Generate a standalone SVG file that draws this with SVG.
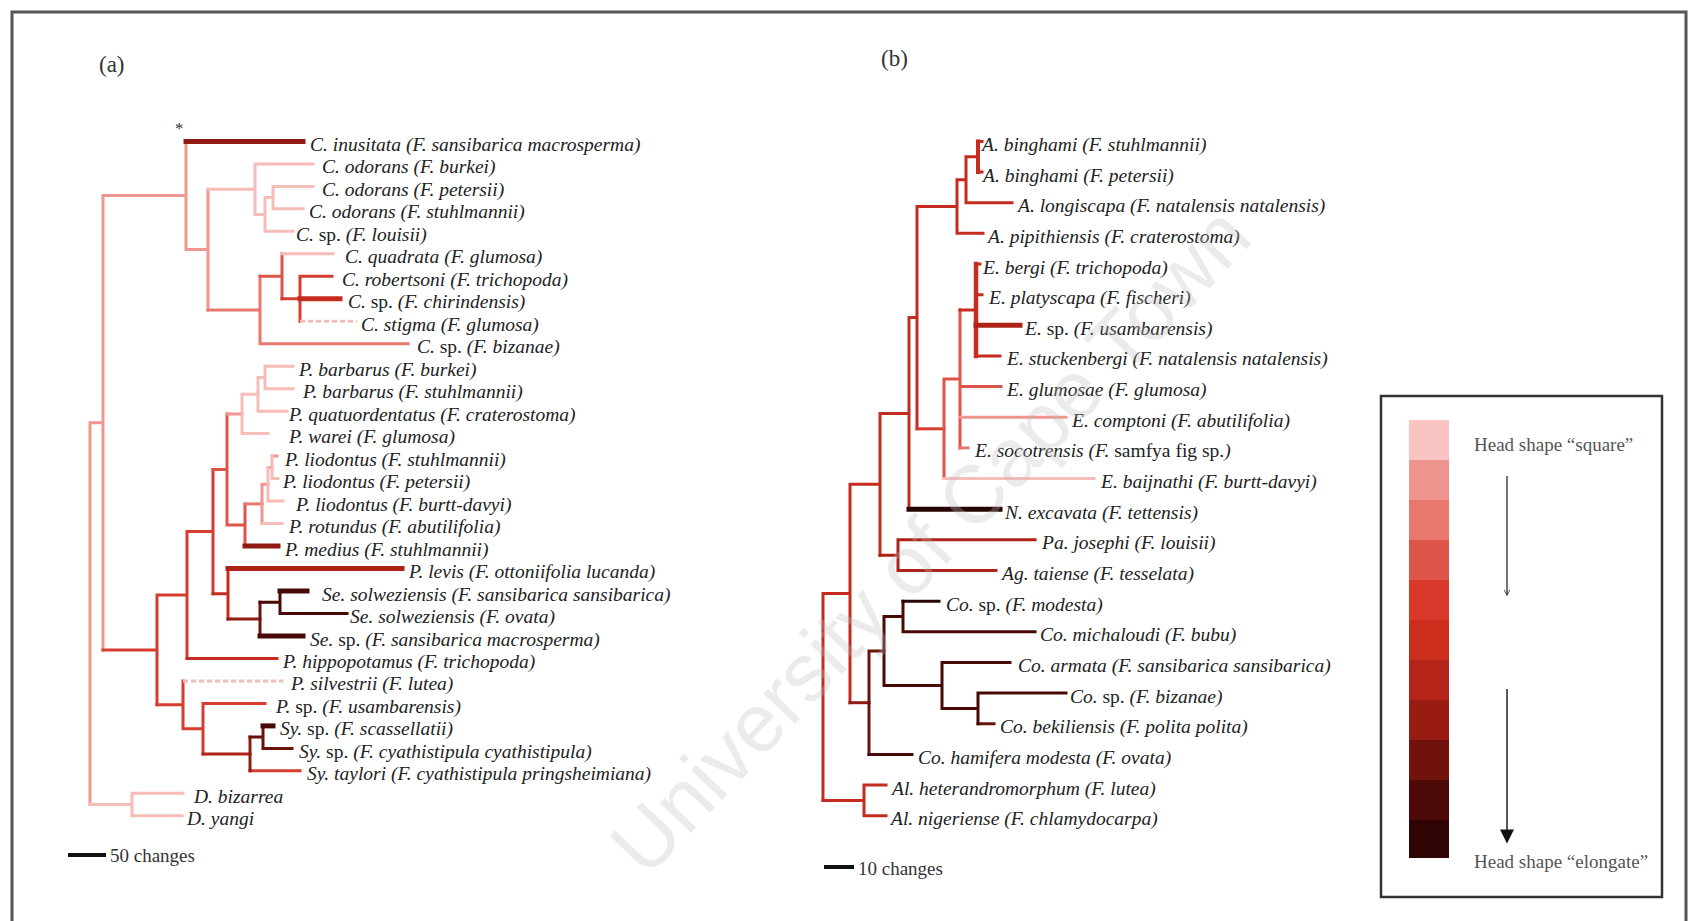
<svg xmlns="http://www.w3.org/2000/svg" width="1689" height="921" viewBox="0 0 1689 921">
<style>
.t{font-family:"Liberation Serif","Times New Roman",serif;font-style:italic;font-size:19.5px;fill:#222}
.r{font-style:normal}
.u{font-family:"Liberation Serif","Times New Roman",serif;font-size:19px;fill:#333}
.b{fill:none;stroke-width:3;stroke-linecap:square}
.k{stroke-width:5}
.d{stroke-dasharray:5 3;stroke-linecap:butt}
.c1{stroke:#f6bcb8}.c2{stroke:#ef968f}.c3{stroke:#e8776e}.c4{stroke:#dd5448}.c5{stroke:#d63d2e}
.c6{stroke:#c52b1e}.c7{stroke:#ad2318}.c8{stroke:#8f1b12}.c9{stroke:#6a120c}.c10{stroke:#470a07}.c11{stroke:#250403}
</style>
<defs>
<marker id="ah" viewBox="0 0 10 10" refX="9" refY="5" markerWidth="16" markerHeight="14" markerUnits="userSpaceOnUse" orient="auto">
<path d="M0,0 L10,5 L0,10 Z" fill="#111"/>
</marker>
<marker id="ah2" viewBox="0 0 10 10" refX="9" refY="5" markerWidth="7" markerHeight="6" markerUnits="userSpaceOnUse" orient="auto">
<path d="M0,0 L10,5 L0,10" fill="none" stroke="#444" stroke-width="1.5"/>
</marker>
</defs>
<rect width="1689" height="921" fill="#fff"/>
<rect x="12" y="12" width="1674" height="930" fill="none" stroke="#555" stroke-width="3"/>

<text x="99" y="72" class="u" style="font-size:23px">(a)</text>
<text x="881" y="66" class="u" style="font-size:23px">(b)</text>
<text x="175" y="134" class="u" style="font-size:17px">*</text>

<g id="connectors-a">
<path class="b c2" d="M90 422.7V804.5M90 422.7H103M103 195.5V649.9M103 195.5H186M186 141.4V249.6M186 249.6H208M208 189.2V310"/>
<path class="b c1" d="M90 804.5H132M132 793.3V815.8M132 793.3H183M132 815.8H182"/>
<path class="b c8 k" d="M186 141.4H303"/>
<path class="b c1" d="M208 189.2H255M255 163.9V214.5M255 163.9H313M255 214.5H265M265 197.6V231.3M265 231.3H293M265 197.6H273M273 186.4V208.8M273 186.4H313M273 208.8H303"/>
<path class="b c3" d="M208 310H260M260 276.3V343.7M260 343.7H408"/>
<path class="b c4" d="M260 276.3H282M282 253.8V298.8"/>
<path class="b c1" d="M282 253.8H333"/>
<path class="b c5" d="M282 298.8H300M300 276.3V321.2M300 276.3H332"/>
<path class="b c6 k" d="M300 298.8H340"/>
<path class="b c1 d" d="M300 321.2H357"/>
<path class="b c5" d="M103 649.9H157M157 595V704.8M157 595H187M187 531.6V658.4M187 531.6H213M213 469.5V593.8"/>
<path class="b c6" d="M187 658.4H277"/>
<path class="b c4" d="M213 469.5H227M227 414V525M227 525H245M245 503.9V546"/>
<path class="b c2" d="M227 414H242"/>
<path class="b c1" d="M242 394.3V433.6M242 433.6H268M242 394.3H258M258 377.5V411.2M258 411.2H287M258 377.5H265M265 366.2V388.7M265 366.2H293M265 388.7H293"/>
<path class="b c8 k" d="M245 546H278"/>
<path class="b c3" d="M245 503.9H262"/>
<path class="b c2" d="M262 484.2V523.6M262 484.2H268M268 467.4H272M272 456.1H277"/>
<path class="b c1" d="M262 523.6H282M268 467.4V501.1M268 501.1H283M272 456.1V478.6M272 478.6H278"/>
<path class="b c6" d="M213 593.8H228M228 568.5V619.1"/>
<path class="b c7 k" d="M228 568.5H402"/>
<path class="b c8" d="M228 619.1H260"/>
<path class="b c9" d="M260 602.2V636"/>
<path class="b c10 k" d="M260 636H303M280 591H307"/>
<path class="b c10" d="M260 602.2H280M280 591V613.5M280 613.5H347"/>
<path class="b c5" d="M157 704.8H183M183 680.9V728.7M183 728.7H203M203 703.4V754M203 703.4H265M250 770.8H300"/>
<path class="b c1 d" d="M183 680.9H283"/>
<path class="b c7" d="M203 754H250"/>
<path class="b c8" d="M250 737.1V770.8"/>
<path class="b c9" d="M250 737.1H263M263 725.9V748.4M263 748.4H292"/>
<path class="b c10 k" d="M263 725.9H273"/>
</g>

<g id="connectors-b">
<path class="b c6" d="M823 593.5V800.4M823 593.5H850M850 484.3V702.7M850 484.3H880M880 413.4V555.2M880 413.4H909M909 317.6V509.2M909 317.6H917M917 206.5V428.8M917 206.5H957M957 179.7V233.35M957 233.35H983M957 179.7H966M966 156.7V202.7M966 202.7H1012M966 156.7H978M978 141.4H982M978 172.05H982"/>
<path class="b c6" d="M978 141.4V172.05" style="stroke-width:4"/>
<path class="b c11 k" d="M909 509.2H1000"/>
<path class="b c5" d="M917 428.8H944"/>
<path class="b c4" d="M944 379V478.55M944 379H960M960 310V447.9M960 386.6H1001"/>
<path class="b c1" d="M944 478.55H1094"/>
<path class="b c2" d="M960 417.25H1066"/>
<path class="b c3" d="M960 447.9H968"/>
<path class="b c6" d="M960 310H976M976 264H980M976 294.65H982M976 355.95H1000"/>
<path class="b c6" d="M976 264V355.95" style="stroke-width:4.5"/>
<path class="b c7 k" d="M976 325.3H1020"/>
<path class="b c7" d="M880 555.2H898M898 539.85V570.5M898 539.85H1035M898 570.5H996"/>
<path class="b c8" d="M850 702.7H869"/>
<path class="b c9" d="M869 651V754.4M869 651H884M978 723.75H994"/>
<path class="b c10" d="M869 754.4H912M884 616.5V685.4M884 616.5H903M903 601.15V631.8M903 631.8H1035M884 685.4H942M942 662.45V708.4M942 662.45H1010M942 708.4H978M978 693.1V723.75M978 693.1H1066"/>
<path class="b c11" d="M903 601.15H939"/>
<path class="b c6" d="M823 800.4H864M864 785.05V815.7M864 785.05H886M864 815.7H886"/>
</g>

<g id="a01"><text class="t" x="310" y="150.9">C. inusitata (F. sansibarica macrosperma)</text></g>
<g id="a02"><text class="t" x="322" y="173.4">C. odorans (F. burkei)</text></g>
<g id="a03"><text class="t" x="322" y="195.9">C. odorans (F. petersii)</text></g>
<g id="a04"><text class="t" x="309" y="218.3">C. odorans (F. stuhlmannii)</text></g>
<g id="a05"><text class="t" x="296" y="240.8">C. <tspan class="r">sp.</tspan> (F. louisii)</text></g>
<g id="a06"><text class="t" x="345" y="263.3">C. quadrata (F. glumosa)</text></g>
<g id="a07"><text class="t" x="342" y="285.8">C. robertsoni (F. trichopoda)</text></g>
<g id="a08"><text class="t" x="348" y="308.3">C. <tspan class="r">sp.</tspan> (F. chirindensis)</text></g>
<g id="a09"><text class="t" x="361" y="330.7">C. stigma (F. glumosa)</text></g>
<g id="a10"><text class="t" x="417" y="353.2">C. <tspan class="r">sp.</tspan> (F. bizanae)</text></g>
<g id="a11"><text class="t" x="299" y="375.7">P. barbarus (F. burkei)</text></g>
<g id="a12"><text class="t" x="303" y="398.2">P. barbarus (F. stuhlmannii)</text></g>
<g id="a13"><text class="t" x="289" y="420.7">P. quatuordentatus (F. craterostoma)</text></g>
<g id="a14"><text class="t" x="289" y="443.1">P. warei (F. glumosa)</text></g>
<g id="a15"><text class="t" x="285" y="465.6">P. liodontus (F. stuhlmannii)</text></g>
<g id="a16"><text class="t" x="283" y="488.1">P. liodontus (F. petersii)</text></g>
<g id="a17"><text class="t" x="296" y="510.6">P. liodontus (F. burtt-davyi)</text></g>
<g id="a18"><text class="t" x="289" y="533.1">P. rotundus (F. abutilifolia)</text></g>
<g id="a19"><text class="t" x="285" y="555.5">P. medius (F. stuhlmannii)</text></g>
<g id="a20"><text class="t" x="409" y="578">P. levis (F. ottoniifolia lucanda)</text></g>
<g id="a21"><text class="t" x="322" y="600.5">Se. solweziensis (F. sansibarica sansibarica)</text></g>
<g id="a22"><text class="t" x="350" y="623">Se. solweziensis (F. ovata)</text></g>
<g id="a23"><text class="t" x="310" y="645.5">Se. <tspan class="r">sp.</tspan> (F. sansibarica macrosperma)</text></g>
<g id="a24"><text class="t" x="283" y="667.9">P. hippopotamus (F. trichopoda)</text></g>
<g id="a25"><text class="t" x="291" y="690.4">P. silvestrii (F. lutea)</text></g>
<g id="a26"><text class="t" x="276" y="712.9">P. <tspan class="r">sp.</tspan> (F. usambarensis)</text></g>
<g id="a27"><text class="t" x="280" y="735.4">Sy. <tspan class="r">sp.</tspan> (F. scassellatii)</text></g>
<g id="a28"><text class="t" x="299" y="757.9">Sy. <tspan class="r">sp.</tspan> (F. cyathistipula cyathistipula)</text></g>
<g id="a29"><text class="t" x="307" y="780.3">Sy. taylori (F. cyathistipula pringsheimiana)</text></g>
<g id="a30"><text class="t" x="194" y="802.8">D. bizarrea</text></g>
<g id="a31"><text class="t" x="187" y="825.3">D. yangi</text></g>

<g id="b01"><text class="t" x="982" y="150.9">A. binghami (F. stuhlmannii)</text></g>
<g id="b02"><text class="t" x="983" y="181.55">A. binghami (F. petersii)</text></g>
<g id="b03"><text class="t" x="1018" y="212.2">A. longiscapa (F. natalensis natalensis)</text></g>
<g id="b04"><text class="t" x="988" y="242.85">A. pipithiensis (F. craterostoma)</text></g>
<g id="b05"><text class="t" x="983" y="273.5">E. bergi (F. trichopoda)</text></g>
<g id="b06"><text class="t" x="989" y="304.15">E. platyscapa (F. fischeri)</text></g>
<g id="b07"><text class="t" x="1025" y="334.8">E. <tspan class="r">sp.</tspan> (F. usambarensis)</text></g>
<g id="b08"><text class="t" x="1007" y="365.45">E. stuckenbergi (F. natalensis natalensis)</text></g>
<g id="b09"><text class="t" x="1007" y="396.1">E. glumosae (F. glumosa)</text></g>
<g id="b10"><text class="t" x="1072" y="426.75">E. comptoni (F. abutilifolia)</text></g>
<g id="b11"><text class="t" x="975" y="457.4">E. socotrensis (F. <tspan class="r">samfya fig sp.</tspan>)</text></g>
<g id="b12"><text class="t" x="1101" y="488.05">E. baijnathi (F. burtt-davyi)</text></g>
<g id="b13"><text class="t" x="1005" y="518.7">N. excavata (F. tettensis)</text></g>
<g id="b14"><text class="t" x="1042" y="549.35">Pa. josephi (F. louisii)</text></g>
<g id="b15"><text class="t" x="1002" y="580">Ag. taiense (F. tesselata)</text></g>
<g id="b16"><text class="t" x="946" y="610.65">Co. <tspan class="r">sp.</tspan> (F. modesta)</text></g>
<g id="b17"><text class="t" x="1040" y="641.3">Co. michaloudi (F. bubu)</text></g>
<g id="b18"><text class="t" x="1018" y="671.95">Co. armata (F. sansibarica sansibarica)</text></g>
<g id="b19"><text class="t" x="1070" y="702.6">Co. <tspan class="r">sp.</tspan> (F. bizanae)</text></g>
<g id="b20"><text class="t" x="1000" y="733.25">Co. bekiliensis (F. polita polita)</text></g>
<g id="b21"><text class="t" x="918" y="763.9">Co. hamifera modesta (F. ovata)</text></g>
<g id="b22"><text class="t" x="892" y="794.55">Al. heterandromorphum (F. lutea)</text></g>
<g id="b23"><text class="t" x="891" y="825.2">Al. nigeriense (F. chlamydocarpa)</text></g>

<g id="scale-a">
<path d="M68 855H106" stroke="#111" stroke-width="4"/>
<text class="u" x="110" y="862">50 changes</text>
</g>
<g id="scale-b">
<path d="M824 867H854" stroke="#111" stroke-width="4"/>
<text class="u" x="858" y="875">10 changes</text>
</g>

<g id="legend">
<rect x="1381" y="396" width="281" height="501" fill="none" stroke="#333" stroke-width="2.5"/>
<rect x="1409" y="420" width="40" height="40" fill="#f9c4c2"/>
<rect x="1409" y="460" width="40" height="40" fill="#ee9590"/>
<rect x="1409" y="500" width="40" height="40" fill="#e8776e"/>
<rect x="1409" y="540" width="40" height="40" fill="#dd5448"/>
<rect x="1409" y="580" width="40" height="40" fill="#d8392a"/>
<rect x="1409" y="620" width="40" height="40" fill="#cc2e1e"/>
<rect x="1409" y="660" width="40" height="40" fill="#b52418"/>
<rect x="1409" y="700" width="40" height="40" fill="#981c12"/>
<rect x="1409" y="740" width="40" height="40" fill="#72120c"/>
<rect x="1409" y="780" width="40" height="40" fill="#4e0a08"/>
<rect x="1409" y="820" width="40" height="38" fill="#2e0504"/>
<text class="u" x="1474" y="451" style="font-size:19px;fill:#555">Head shape “square”</text>
<path d="M1507 476V595" stroke="#444" stroke-width="1.5" marker-end="url(#ah2)"/>
<path d="M1507 689V842" stroke="#222" stroke-width="1.5" marker-end="url(#ah)"/>
<text class="u" x="1474" y="868" style="font-size:19px;fill:#555">Head shape “elongate”</text>
</g>

<text x="935" y="545" text-anchor="middle" dominant-baseline="middle" transform="rotate(-46.4 935 545)" style="font-family:'Liberation Sans',Arial,sans-serif;font-size:82px;fill:#bdbdbd;fill-opacity:0.3">University of Cape Town</text>
</svg>
